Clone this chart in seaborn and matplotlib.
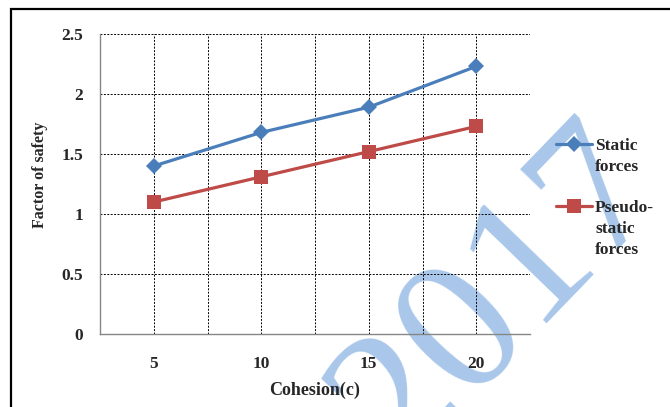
import matplotlib
matplotlib.use("Agg")
import matplotlib.pyplot as plt
import matplotlib.patches as mpatches
from matplotlib.ticker import MultipleLocator
import pandas as pd
import seaborn as sns

# data
cohesion = ["5", "10", "15", "20"]
static_fos = [1.40, 1.68, 1.89, 2.23]
pseudo_fos = [1.10, 1.31, 1.52, 1.73]
series_names = ["Static forces", "Pseudo-static forces"]
legend_labels = ["Static\nforces", "Pseudo-\nstatic\nforces"]
y_ticks = [0, 0.5, 1, 1.5, 2, 2.5]
y_tick_labels = ["0", "0.5", "1", "1.5", "2", "2.5"]

df = pd.DataFrame({
    "cohesion": cohesion * 2,
    "fos": static_fos + pseudo_fos,
    "series": [series_names[0]] * len(cohesion) + [series_names[1]] * len(cohesion),
})

sns.set_theme(style="white")
plt.rcParams["font.family"] = ["Liberation Serif", "DejaVu Serif"]
plt.rcParams["font.weight"] = "bold"

fig = plt.figure(figsize=(6.70, 4.07), dpi=100)
W, H = 670, 407
ax = fig.add_axes([100 / W, 1 - 334 / H, 430 / W, 300 / H])
ax.set_facecolor("none")

# outer chart frame
fig.patches.append(mpatches.Rectangle((10.5 / W, -0.1), 1.2, 1 - 9.5 / H + 0.1,
                                      transform=fig.transFigure, fill=False,
                                      edgecolor="black", linewidth=1.6, zorder=5))

# watermark
fig.text(500 / W, 1 - 296 / H, "2017", fontsize=139, fontweight="normal",
         family="Liberation Serif", color="#a9c7ea", rotation=46,
         rotation_mode="anchor", ha="center", va="center", zorder=-1)

palette = {series_names[0]: "#4a7ebb", series_names[1]: "#be4b48"}
markers = {series_names[0]: "D", series_names[1]: "s"}
sns.lineplot(data=df, x="cohesion", y="fos", hue="series", style="series",
             palette=palette, markers=markers, dashes=False, sort=False,
             linewidth=2.3, markersize=9, markeredgewidth=0, ax=ax, legend=False)
ax.get_lines()[0].set_markersize(8)
ax.get_lines()[1].set_markersize(10)

ax.set_xlim(-0.5, len(cohesion) - 0.5)
ax.set_ylim(0, 2.5)
ax.set_yticks(y_ticks)
ax.set_yticklabels(y_tick_labels)
ax.xaxis.set_minor_locator(MultipleLocator(0.5))
ax.grid(True, which="both", axis="x", color="black", linestyle=(0, (2, 1.5)), linewidth=0.7)
ax.grid(True, which="major", axis="y", color="black", linestyle=(0, (2, 1.5)), linewidth=0.7)
ax.tick_params(axis="both", which="both", length=0, labelsize=12.5)
ax.tick_params(axis="y", pad=12)
ax.tick_params(axis="x", pad=16)
for lab in ax.get_xticklabels() + ax.get_yticklabels():
    lab.set_fontweight("bold")

for side in ("top", "right"):
    ax.spines[side].set_visible(False)
for side in ("left", "bottom"):
    ax.spines[side].set_color("#868686")
    ax.spines[side].set_linewidth(1.0)

ax.set_xlabel("Cohesion(c)", fontsize=13, fontweight="bold", labelpad=7)
ax.set_ylabel("Factor of safety", fontsize=11.5, fontweight="bold")
ax.yaxis.set_label_coords(-0.12, 0.53)

handles = ax.get_lines()[:2]
leg = ax.legend(handles, legend_labels, loc="upper left",
                bbox_to_anchor=(549 / W, 1 - 131 / H), bbox_transform=fig.transFigure,
                frameon=False, fontsize=12.5, handlelength=2.1, handletextpad=0.15,
                labelspacing=1.4, borderaxespad=0)
for t in leg.get_texts():
    t.set_fontweight("bold")
    t.set_linespacing(1.45)
# put each legend symbol level with the first line of its label
for col in leg._legend_handle_box.get_children():
    for row in col.get_children():
        row.align = "top"

fig.savefig("out.png", dpi=100)
